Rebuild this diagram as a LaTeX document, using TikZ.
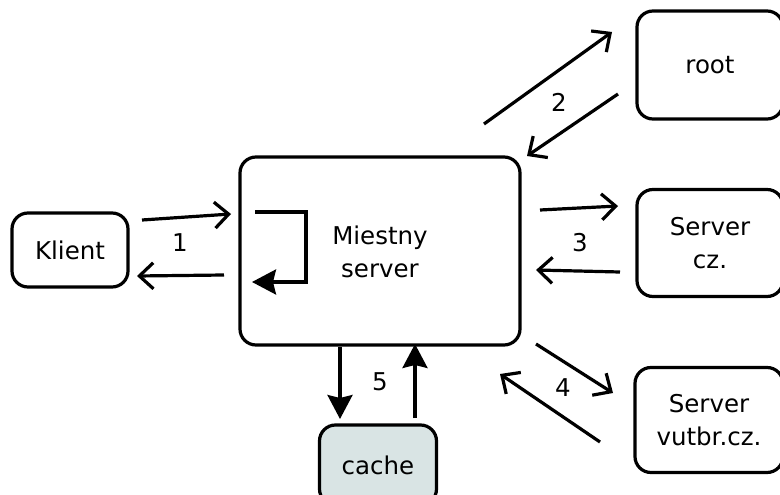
\documentclass[tikz,border=0pt]{standalone}
\usepackage{fontspec}
\setmainfont{DejaVu Sans}
\usetikzlibrary{arrows.meta}
\definecolor{cachefill}{HTML}{D9E4E4}
\begin{document}
\begin{tikzpicture}[x=1pt,y=-1pt,
  font=\fontsize{24.5}{33}\selectfont,
  box/.style={draw, line width=3.2pt, rounded corners=16pt, align=center, inner sep=0pt},
  flow/.style={line width=3.2pt, -{Straight Barb[length=14pt,width=26pt]}},
  solid flow/.style={line width=3.2pt, -{Stealth[length=24pt,width=25pt,inset=3pt]}},
  lbl/.style={inner sep=0pt}
]
\useasboundingbox (0,0) rectangle (780,495);
\clip (0,0) rectangle (780,495);

% boxes
\node[box, minimum width=116pt, minimum height=74pt] (klient) at (70,250) {Klient};
\node[box, minimum width=280pt, minimum height=188pt] (local) at (380,251) {};
\node[lbl, align=center] (localtext) at (380,252) {Miestny\\server};
\node[box, minimum width=146pt, minimum height=108pt] (root) at (710,65) {root};
\node[box, minimum width=146pt, minimum height=107pt] (cz) at (710,243) {Server\\cz.};
\node[box, minimum width=148pt, minimum height=105pt] (vutbr) at (709,420) {Server\\vutbr.cz.};
\node[box, fill=cachefill, minimum width=117pt, minimum height=80pt] (cache) at (378,465) {cache};

% step labels
\node[lbl] (n1) at (180,243) {1};
\node[lbl] (n2) at (559,102) {2};
\node[lbl] (n3) at (580,243) {3};
\node[lbl] (n4) at (563,388) {4};
\node[lbl] (n5) at (380,382) {5};

% arrow end points
\coordinate (a1s) at (142,220); \coordinate (a1e) at (231,214);
\coordinate (b1s) at (224,275); \coordinate (b1e) at (137,276);
\coordinate (a2s) at (484,124); \coordinate (a2e) at (612,32);
\coordinate (b2s) at (618,94);  \coordinate (b2e) at (527,156);
\coordinate (a3s) at (540,210); \coordinate (a3e) at (618,206);
\coordinate (b3s) at (620,272); \coordinate (b3e) at (536,270);
\coordinate (a4s) at (536,344); \coordinate (a4e) at (613,393);
\coordinate (b4s) at (600,442); \coordinate (b4e) at (500,374);
\coordinate (a5s) at (340,347); \coordinate (a5e) at (340,419);
\coordinate (b5s) at (415,418); \coordinate (b5e) at (415,344);
\coordinate (ls) at (255,212); \coordinate (lc1) at (306,212);
\coordinate (lc2) at (306,282); \coordinate (le) at (252,282);

% connectors
\draw[flow] (a1s) -- (a1e);
\draw[flow] (b1s) -- (b1e);
\draw[flow] (a2s) -- (a2e);
\draw[flow] (b2s) -- (b2e);
\draw[flow] (a3s) -- (a3e);
\draw[flow] (b3s) -- (b3e);
\draw[flow] (a4s) -- (a4e);
\draw[flow] (b4s) -- (b4e);
\draw[solid flow] (a5s) -- (a5e);
\draw[solid flow] (b5s) -- (b5e);
\draw[solid flow] (ls) -- (lc1) -- (lc2) -- (le);
\end{tikzpicture}
\end{document}
